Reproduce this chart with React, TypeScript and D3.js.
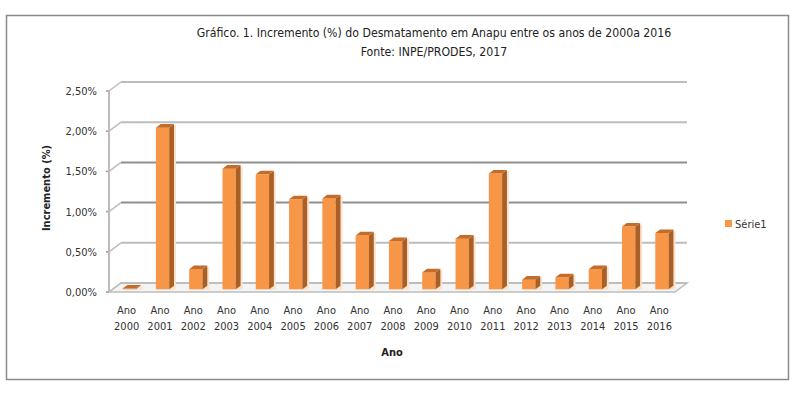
import { useRef, useEffect } from "react";
import * as d3 from "d3";

const years = [
  "2000", "2001", "2002", "2003", "2004", "2005", "2006", "2007", "2008",
  "2009", "2010", "2011", "2012", "2013", "2014", "2015", "2016",
];
const increments = [
  0.01, 2.01, 0.25, 1.5, 1.43, 1.12, 1.13, 0.67, 0.6, 0.21, 0.63, 1.44,
  0.12, 0.15, 0.25, 0.78, 0.7,
];
const yTicks = [0, 0.5, 1, 1.5, 2, 2.5];
const titleLines = [
  "Gráfico. 1. Incremento (%) do Desmatamento em Anapu entre os anos de 2000a 2016",
  "Fonte: INPE/PRODES, 2017",
];
const seriesName = "Série1";

const FONT = "'Liberation Sans Narrow', 'DejaVu Sans Condensed', 'Open Sans', sans-serif";

export default function App() {
  const svgRef = useRef<SVGSVGElement>(null);
  const width = 800;
  const height = 394;

  useEffect(() => {
    const svg = d3.select(svgRef.current);
    svg.selectAll("*").remove();

    // front floor edge and depth of the 3D box
    const X0 = 109, X1 = 675, Y0 = 292, DX = 12, DY = -9;
    const f0 = 0.3, f1 = 0.7; // bar depth (front / back)

    const x = d3.scaleBand<string>().domain(years).range([X0, X1])
      .paddingInner(0.6).paddingOuter(0.3);
    const y = d3.scaleLinear().domain([0, 2.5]).range([Y0, Y0 - 201]);
    const fmt = (v: number) => v.toFixed(2).replace(".", ",") + "%";

    svg.append("rect").attr("x", 0).attr("y", 0).attr("width", width)
      .attr("height", height).attr("fill", "#fff");
    svg.append("rect").attr("x", 6.5).attr("y", 15.5).attr("width", 782)
      .attr("height", 364).attr("fill", "none").attr("stroke", "#8a8a8a")
      .attr("stroke-width", 1.5);

    svg.selectAll("text.title").data(titleLines).join("text")
      .attr("x", 434).attr("y", (_, i) => 37 + i * 19)
      .attr("text-anchor", "middle").attr("font-family", FONT)
      .attr("font-size", 12.2).attr("fill", "#222").text((d) => d);

    // floor
    const floor = [
      [X0, Y0], [X1, Y0], [X1 + DX, Y0 + DY], [X0 + DX, Y0 + DY],
    ];
    svg.append("polygon").attr("points", floor.map((p) => p.join(",")).join(" "))
      .attr("fill", "#f4f4f4").attr("stroke", "#bdbdbd").attr("stroke-width", 1.5);

    // back-wall gridlines and slanted ticks on the side wall
    const g = svg.append("g");
    yTicks.forEach((t) => {
      const dark = t === 1 || t === 1.5;
      g.append("line").attr("x1", X0 + DX).attr("x2", X1 + DX)
        .attr("y1", y(t) + DY).attr("y2", y(t) + DY)
        .attr("stroke", dark ? "#8f8f8f" : "#bdbdbd").attr("stroke-width", 2);
      g.append("line").attr("x1", X0 - 3).attr("x2", X0)
        .attr("y1", y(t)).attr("y2", y(t))
        .attr("stroke", "#9a9a9a").attr("stroke-width", 1.5);
      g.append("line").attr("x1", X0).attr("x2", X0 + DX)
        .attr("y1", y(t)).attr("y2", y(t) + DY)
        .attr("stroke", "#bdbdbd").attr("stroke-width", 1.5);
      g.append("text").attr("x", 97).attr("y", y(t) + 4)
        .attr("text-anchor", "end").attr("font-family", FONT)
        .attr("font-size", 11).attr("fill", "#333").text(fmt(t));
    });
    g.append("line").attr("x1", X0).attr("x2", X0)
      .attr("y1", y(2.5)).attr("y2", Y0)
      .attr("stroke", "#bdbdbd").attr("stroke-width", 2);

    // bars
    const bw = x.bandwidth();
    const bars = svg.append("g");
    years.forEach((yr, i) => {
      const v = increments[i];
      const bx = x(yr)! + f0 * DX;
      const by0 = y(0) + f0 * DY;
      const by1 = y(v) + f0 * DY;
      const ddx = (f1 - f0) * DX;
      const ddy = (f1 - f0) * DY;
      const pts = (a: number[][]) => a.map((p) => p.join(",")).join(" ");
      // soft shadow
      bars.append("polygon").attr("points", pts([
        [bx + bw, by1 + 1], [bx + bw + ddx + 2, by1 + ddy + 1],
        [bx + bw + ddx + 2, by0], [bx + bw, by0 + 1],
      ])).attr("fill", "#fbe2cd");
      bars.append("rect").attr("x", bx).attr("y", by1).attr("width", bw)
        .attr("height", by0 - by1).attr("fill", "#f79646");
      bars.append("polygon").attr("points", pts([
        [bx + bw, by1], [bx + bw + ddx, by1 + ddy], [bx + bw + ddx, by0 + ddy], [bx + bw, by0],
      ])).attr("fill", "#a95f26");
      bars.append("polygon").attr("points", pts([
        [bx, by1], [bx + ddx, by1 + ddy], [bx + bw + ddx, by1 + ddy], [bx + bw, by1],
      ])).attr("fill", "#c46d2a");
    });

    // x labels
    const xl = svg.append("g").attr("font-family", FONT).attr("font-size", 11)
      .attr("fill", "#333").attr("text-anchor", "middle");
    years.forEach((yr) => {
      const cx = x(yr)! + bw / 2 + 1;
      xl.append("text").attr("x", cx).attr("y", 314).text("Ano");
      xl.append("text").attr("x", cx).attr("y", 330).text(yr);
    });

    svg.append("text").attr("x", 392).attr("y", 356).attr("text-anchor", "middle")
      .attr("font-family", FONT).attr("font-size", 11).attr("font-weight", "bold")
      .attr("fill", "#222").text("Ano");
    svg.append("text").attr("transform", "translate(50,188) rotate(-90)")
      .attr("text-anchor", "middle").attr("font-family", FONT).attr("font-size", 11)
      .attr("font-weight", "bold").attr("fill", "#222").text("Incremento (%)");

    // legend
    svg.append("rect").attr("x", 725).attr("y", 220).attr("width", 7).attr("height", 7)
      .attr("fill", "#f79646");
    svg.append("text").attr("x", 735).attr("y", 228).attr("font-family", FONT)
      .attr("font-size", 11).attr("fill", "#333").text(seriesName);
  }, []);

  return (
    <svg ref={svgRef} width={width} height={height}
      style={{ position: "absolute", left: 0, top: 0 }} />
  );
}
